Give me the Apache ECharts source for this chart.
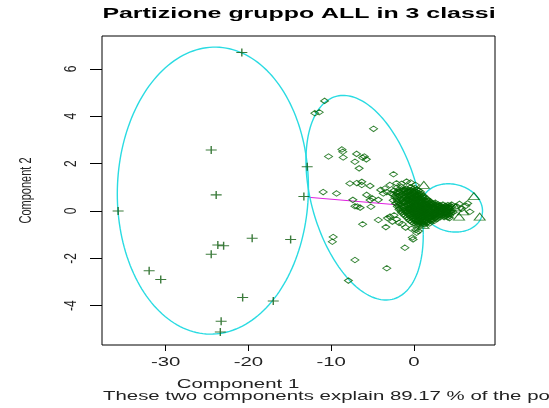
<!DOCTYPE html>
<html>
<head>
<meta charset="utf-8">
<script src="https://cdn.jsdelivr.net/npm/echarts@6/dist/echarts.min.js"></script>
<style>
html,body{margin:0;padding:0;background:#fff;}
#c{width:549px;height:408px;}
</style>
</head>
<body>
<div id="c"></div>
<script>
// ---------- data ----------
var titleText = 'Partizione gruppo ALL in 3 classi';
var xLabel = 'Component 1';
var yLabel = 'Component 2';
var subText = 'These two components explain 89.17 % of the point variability.';
var xTicks = [-30, -20, -10, 0];
var yTicks = [-4, -2, 0, 2, 4, 6];
var xRange = [-37.7, 9.8];
var yRange = [-5.66, 7.39];

// class 1 (crosses)
var crosses = [
  [-20.8,6.69],[-24.5,2.58],[-12.9,1.87],[-23.9,0.68],[-13.3,0.61],[-35.75,0.0],
  [-19.55,-1.15],[-14.9,-1.2],[-23.7,-1.44],[-23.0,-1.47],[-24.5,-1.83],[-32.0,-2.52],
  [-30.6,-2.89],[-20.7,-3.65],[-17.0,-3.8],[-23.3,-4.66],[-23.4,-5.11]
];

// class 2 (diamonds) - scattered points
var diamondsScatter = [
  [-10.8,4.65],[-11.97,4.13],[-11.45,4.17],[-4.88,3.47],
  [-8.7,2.6],[-8.6,2.5],[-10.32,2.3],[-8.55,2.26],[-6.93,2.41],[-6.2,2.25],[-5.75,2.18],[-6.0,2.3],[-7.13,2.08],[-6.62,1.8],[-2.47,1.55],
  [-7.74,1.16],[-6.9,1.18],[-6.3,1.23],[-6.3,1.1],[-5.3,1.06],[-10.97,0.8],[-9.35,0.74],[-7.38,0.47],[-7.13,0.2],[-6.85,0.19],[-6.5,0.14],
  [-5.72,0.68],[-5.3,0.46],[-5.05,0.54],[-5.2,0.18],[-4.3,0.47],[-3.7,0.74],[-4.02,0.89],[-2.9,1.1],[-2.1,1.17],[-0.89,1.24],[-1.5,1.15],[-0.4,1.2],[0.2,1.1],
  [-3.5,0.95],[-3.3,0.8],[-2.8,0.75],
  [-6.2,-0.56],[-4.3,-0.38],[-3.39,-0.68],[-2.9,-0.24],[-2.4,-0.18],[-2.1,-0.35],[-3.2,-0.3],[-2.6,-0.45],[-1.8,-0.5],[-1.4,-0.55],
  [-1.09,-1.55],[-0.2,-1.12],[-0.1,-1.2],[0.32,-0.92],[0.55,-0.85],[-1.0,-0.7],[-0.3,-0.75],[0.2,-0.8],
  [-9.76,-1.1],[-9.86,-1.3],[-7.13,-2.07],[-3.28,-2.42],[-7.92,-2.94],
  [4.15,0.16],[4.55,0.27],[5.16,0.2],[5.77,0.09],[6.29,0.22],[6.77,-0.03],[4.75,-0.05],[5.5,0.3],[6.5,0.32],[3.9,-0.15],[4.3,-0.3]
];

// class 2 (diamonds) - dense core
var diamondsCore = [
  [-2.1,0.98],[-1.5,1.02],[-0.9,0.95],[-0.4,1.0],[0.1,0.97],
  [-2.4,0.86],[-1.9,0.83],[-1.3,0.88],[-0.8,0.84],[-0.3,0.87],[0.2,0.82],[0.6,0.86],
  [-2.5,0.7],[-2.0,0.74],[-1.5,0.7],[-1.0,0.73],[-0.5,0.69],[0.0,0.74],[0.4,0.7],[0.9,0.72],
  [-2.3,0.58],[-1.8,0.6],[-1.2,0.56],[-0.7,0.6],[-0.2,0.57],[0.3,0.6],[0.8,0.56],[1.3,0.58],
  [-2.5,0.45],[-2.0,0.43],[-1.5,0.47],[-1.0,0.44],[-0.5,0.46],[0.0,0.43],[0.5,0.47],[1.0,0.44],[1.5,0.46],[1.9,0.42],
  [-2.2,0.32],[-1.7,0.3],[-1.2,0.34],[-0.7,0.31],[-0.2,0.33],[0.3,0.3],[0.8,0.34],[1.3,0.31],[1.8,0.33],[2.3,0.3],[2.9,0.28],[3.5,0.27],[4.1,0.25],
  [-2.0,0.19],[-1.5,0.17],[-1.0,0.21],[-0.5,0.18],[0.0,0.2],[0.5,0.17],[1.0,0.21],[1.5,0.18],[2.0,0.2],[2.5,0.17],[3.0,0.21],[3.5,0.16],[4.0,0.19],[4.6,0.17],
  [-1.8,0.06],[-1.3,0.04],[-0.8,0.08],[-0.3,0.05],[0.2,0.07],[0.7,0.04],[1.2,0.08],[1.7,0.05],[2.2,0.07],[2.7,0.04],[3.2,0.08],[3.7,0.05],[4.2,0.07],[4.6,0.03],
  [-1.5,-0.07],[-1.0,-0.05],[-0.5,-0.09],[0.0,-0.06],[0.5,-0.08],[1.0,-0.05],[1.5,-0.09],[2.0,-0.06],[2.5,-0.08],[3.0,-0.05],[3.5,-0.09],[4.0,-0.06],[4.5,-0.08],
  [-1.1,-0.2],[-0.6,-0.18],[-0.1,-0.22],[0.4,-0.19],[0.9,-0.21],[1.4,-0.18],[1.9,-0.22],[2.4,-0.19],[2.9,-0.21],[3.4,-0.18],[3.9,-0.22],[4.3,-0.2],
  [-0.7,-0.33],[-0.2,-0.31],[0.3,-0.35],[0.8,-0.32],[1.3,-0.34],[1.8,-0.31],[2.3,-0.35],[2.8,-0.33],
  [-0.3,-0.46],[0.2,-0.44],[0.7,-0.48],[1.2,-0.45],[1.7,-0.47],[2.1,-0.44],
  [0.3,-0.58],[0.8,-0.6],[1.3,-0.57],
  [-0.75,0.78],[-0.25,0.64],[0.25,0.52],[-0.75,0.52],[-1.25,0.64],[0.75,0.38],[0.25,0.25],[-0.25,0.38],[-0.75,0.25],[1.25,0.25],
  [0.75,0.12],[-0.25,0.12],[0.25,-0.01],[1.25,-0.01],[-0.75,-0.01],[0.75,-0.14],[-0.25,-0.14],[1.75,-0.14],[0.25,-0.27],[1.05,-0.27],
  [0.55,-0.4],[1.55,-0.4],[2.55,-0.27],[1.75,0.12],[2.25,0.12],[-1.25,0.38],[2.75,-0.14],[3.25,0.0],[3.75,0.12],
  [-1.8,0.91],[-1.2,0.92],[-0.65,0.9],[-0.15,0.93],[0.35,0.9],
  [-2.15,0.78],[-1.65,0.79],[-1.05,0.77],[-0.05,0.79],[0.45,0.78],[0.8,0.8],
  [-2.25,0.64],[-1.75,0.66],[-0.95,0.63],[0.2,0.66],[0.65,0.64],[1.1,0.65],
  [-2.05,0.51],[-1.55,0.53],[-0.95,0.5],[-0.45,0.52],[0.05,0.51],[0.55,0.53],[1.05,0.51],[1.55,0.52],
  [-1.95,0.38],[-1.45,0.4],[-0.95,0.37],[-0.45,0.39],[0.05,0.37],[0.55,0.4],[1.05,0.37],[1.5,0.39],[2.05,0.37],[2.6,0.35],
  [-1.95,0.25],[-1.45,0.24],[-0.45,0.26],[0.05,0.25],[0.55,0.24],[0.95,0.27],[1.55,0.25],[2.05,0.26],[2.6,0.24],[3.2,0.24],[3.8,0.22],[4.4,0.22],
  [-1.75,0.12],[-1.25,0.13],[-0.7,0.12],[0.05,0.13],[0.45,0.11],[1.0,0.13],[1.45,0.12],[2.5,0.11],[3.0,0.13],[3.45,0.1],[4.3,0.12],
  [-1.55,0.0],[-1.0,0.01],[-0.45,-0.01],[0.0,0.01],[0.5,0.0],[1.0,0.01],[1.5,-0.01],[2.0,0.0],[2.45,-0.01],[2.95,0.0],[3.5,0.02],[4.0,0.0],[4.45,-0.02],
  [-1.25,-0.13],[-0.8,-0.12],[0.25,-0.13],[0.5,-0.15],[1.2,-0.12],[1.5,-0.14],[2.25,-0.13],[2.55,-0.12],[3.2,-0.13],[3.75,-0.12],[4.25,-0.14],
  [-0.85,-0.26],[-0.4,-0.25],[0.6,-0.26],[1.3,-0.25],[1.65,-0.27],[2.1,-0.26],[2.7,-0.25],[3.15,-0.27],[3.65,-0.26],[4.1,-0.27],
  [-0.5,-0.4],[0.0,-0.39],[1.0,-0.4],[2.0,-0.39],[2.5,-0.41],
  [0.0,-0.52],[0.5,-0.53],[1.0,-0.52],[1.5,-0.51],[1.9,-0.53],
  [-0.55,0.82],[0.0,0.85],[-1.05,0.86],
  [-0.25,0.72],[0.65,0.7],[-0.75,0.67],[0.15,0.68],
  [-0.45,0.59],[0.55,0.58],[1.05,0.59],[0.05,0.56],
  [-0.25,0.45],[0.25,0.44],[0.75,0.46],[1.25,0.45],[1.75,0.44],[-0.75,0.43],
  [-0.45,0.32],[0.05,0.31],[0.55,0.33],[1.05,0.32],[1.55,0.3],[2.05,0.31],[2.6,0.29],
  [-0.25,0.19],[0.25,0.18],[0.75,0.2],[1.25,0.19],[1.75,0.18],[2.25,0.19],[2.75,0.2],[3.25,0.18],[3.75,0.19],[4.3,0.18],
  [-0.55,0.06],[-0.05,0.07],[0.45,0.05],[0.95,0.06],[1.45,0.07],[1.95,0.05],[2.45,0.06],[2.95,0.07],[3.45,0.05],[3.95,0.06],
  [-0.25,-0.08],[0.25,-0.07],[0.75,-0.09],[1.25,-0.07],[1.75,-0.08],[2.25,-0.07],[2.75,-0.09],[3.25,-0.07],[3.75,-0.08],[4.25,-0.06],
  [0.15,-0.2],[0.65,-0.21],[1.15,-0.19],[1.65,-0.2],[2.15,-0.21],[2.65,-0.19],[3.15,-0.2],[3.65,-0.21],
  [0.05,-0.33],[0.55,-0.34],[1.05,-0.32],[1.55,-0.33],[2.05,-0.34],[2.55,-0.32],
  [0.45,-0.46],[0.95,-0.47],[1.45,-0.45],
  [0.55,-0.59],[1.05,-0.58]
];

// class 3 (triangles)
var triangles = [
  [1.2,1.1],[7.25,0.63],[7.95,-0.24],[5.45,-0.24],[5.95,-0.02],[1.15,-0.59],[5.0,0.15]
];

// ellipses: [centerX, centerY, halfWidthX, halfHeightY, phaseDeg]
var ellipses = [
  [-24.3, 0.86, 11.55, 6.06, 88.7],
  [-5.96, 0.56, 7.09, 4.32, 111.3],
  [4.6, 0.13, 3.69, 1.02, 97]
];

// link between clusters
var linkLine = [[-12.8, 0.58], [-1.7, 0.25]];

// ---------- chart ----------
var green = '#006400';
var chart = echarts.init(document.getElementById('c'), null, {renderer: 'canvas'});
var option = {
  animation: false,
  backgroundColor: '#ffffff',
  grid: {left: 102, top: 36, width: 393, height: 309, show: true, borderColor: '#000', borderWidth: 1, backgroundColor: 'transparent'},
  xAxis: {
    type: 'value', min: xRange[0], max: xRange[1], position: 'bottom',
    axisLine: {show: false, onZero: false},
    axisTick: {show: true, inside: false, customValues: xTicks, length: 6, lineStyle: {color: '#000'}},
    axisLabel: {show: false, customValues: xTicks},
    splitLine: {show: false}
  },
  yAxis: {
    type: 'value', min: yRange[0], max: yRange[1], position: 'left',
    axisLine: {show: false, onZero: false},
    axisTick: {show: true, inside: false, customValues: yTicks, length: 12, lineStyle: {color: '#000'}},
    axisLabel: {show: false, customValues: yTicks},
    splitLine: {show: false}
  },
  series: [
    {
      type: 'line', data: linkLine, symbol: 'none', silent: true, z: 1,
      lineStyle: {color: '#e020e0', width: 1}
    },
    {
      type: 'custom', data: ellipses, z: 2, silent: true,
      encode: {x: 0, y: 1},
      renderItem: function (params, api) {
        var cx = api.value(0), cy = api.value(1), X = api.value(2), Y = api.value(3), d = api.value(4) * Math.PI / 180;
        var pts = [];
        for (var i = 0; i <= 180; i++) {
          var t = i / 180 * 2 * Math.PI;
          pts.push(api.coord([cx + X * Math.cos(t), cy + Y * Math.cos(t + d)]));
        }
        return {type: 'polyline', shape: {points: pts}, style: {stroke: '#2adbe2', fill: null, lineWidth: 1.4}};
      }
    },
    {
      type: 'scatter', data: crosses, z: 3, silent: true,
      symbol: 'path://M0,5L10,5M5,0L5,10', symbolSize: [11, 8],
      itemStyle: {color: 'rgba(0,0,0,0)', borderColor: '#0b5a0b', borderWidth: 1.2}
    },
    {
      type: 'scatter', data: diamondsScatter.concat(diamondsCore), z: 3, silent: true,
      symbol: 'diamond', symbolSize: [8, 5.5],
      itemStyle: {color: 'rgba(0,0,0,0)', borderColor: green, borderWidth: 1}
    },
    {
      type: 'scatter', data: triangles, z: 3, silent: true,
      symbol: 'triangle', symbolSize: [11, 7],
      itemStyle: {color: 'rgba(0,0,0,0)', borderColor: green, borderWidth: 1}
    }
  ]
};
chart.setOption(option);

// ---------- texts (positioned through the axes' scales) ----------
var SX = 1.7;
var font12 = '12px "Liberation Sans", Arial, sans-serif';
var g = [];
g.push({type: 'text', x: 299, y: 14.5, scaleX: 1.78, style: {text: titleText, font: 'bold 14px "Liberation Sans", Arial, sans-serif', fill: '#000', textAlign: 'center', verticalAlign: 'middle'}});
xTicks.forEach(function (v) {
  var p = chart.convertToPixel({gridIndex: 0}, [v, yRange[0]]);
  g.push({type: 'text', x: p[0], y: 363, scaleX: SX, style: {text: String(v), font: font12, fill: '#222', textAlign: 'center', verticalAlign: 'middle'}});
});
yTicks.forEach(function (v) {
  var p = chart.convertToPixel({gridIndex: 0}, [xRange[0], v]);
  g.push({type: 'text', x: 71, y: p[1], rotation: Math.PI / 2, scaleY: 1.4, style: {text: String(v), font: font12, fill: '#222', textAlign: 'center', verticalAlign: 'middle'}});
});
g.push({type: 'text', x: 238, y: 385, scaleX: SX, style: {text: xLabel, font: font12, fill: '#222', textAlign: 'center', verticalAlign: 'middle'}});
g.push({type: 'text', x: 103, y: 397, scaleX: SX, style: {text: subText, font: font12, fill: '#222', textAlign: 'left', verticalAlign: 'middle'}});
g.push({type: 'text', x: 26, y: 190.5, rotation: Math.PI / 2, scaleY: 1.5, style: {text: yLabel, font: '11px "Liberation Sans", Arial, sans-serif', fill: '#222', textAlign: 'center', verticalAlign: 'middle'}});
chart.setOption({graphic: g});
</script>
</body>
</html>
